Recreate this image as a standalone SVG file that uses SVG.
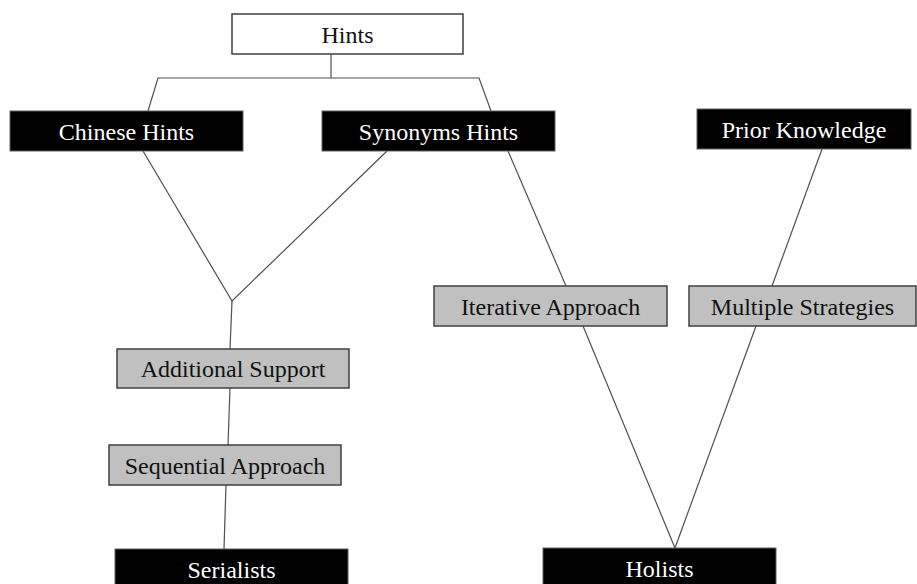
<svg xmlns="http://www.w3.org/2000/svg" width="917" height="584" viewBox="0 0 917 584">
<style>
text{font-family:'Liberation Serif','Times New Roman','DejaVu Serif',serif;font-size:24px;text-anchor:middle}
.w rect{fill:#fff;stroke:#404040;stroke-width:1.5}
.b rect{fill:#000;stroke:#606060;stroke-width:1}
.b text{fill:#fff}
.g rect{fill:#c0c0c0;stroke:#404040;stroke-width:1.5}
.g text,.w text{fill:#111}
#connectors line,#connectors polyline{stroke:#505050;stroke-width:1.2;fill:none}
</style>
<rect width="917" height="584" fill="#fff"/>
<g id="connectors">
<line x1="331" y1="54" x2="331" y2="78"/>
<polyline points="148,111 158,78 479,78 491,111"/>
<polyline points="143,151 232,301 387,151"/>
<line x1="232" y1="301" x2="230" y2="349"/>
<line x1="230" y1="388" x2="228" y2="445"/>
<line x1="226" y1="485" x2="224" y2="549"/>
<line x1="508" y1="151" x2="566" y2="286"/>
<line x1="822" y1="149" x2="772" y2="286"/>
<polyline points="583,326 675,548 756,326"/>
</g>
<g id="hints" class="w"><rect x="232" y="14" width="231" height="40"/><text x="347.5" y="43" font-family="Liberation Serif, serif">Hints</text></g>
<g id="chinese-hints" class="b"><rect x="10" y="111" width="233" height="40"/><text x="126.5" y="139.5">Chinese Hints</text></g>
<g id="synonyms-hints" class="b"><rect x="322" y="111" width="233" height="40"/><text x="438.5" y="139.5">Synonyms Hints</text></g>
<g id="prior-knowledge" class="b"><rect x="697" y="109" width="214" height="40"/><text x="804" y="137.5">Prior Knowledge</text></g>
<g id="additional-support" class="g"><rect x="117" y="349" width="232" height="39"/><text x="233" y="377">Additional Support</text></g>
<g id="sequential-approach" class="g"><rect x="109" y="445" width="232" height="40"/><text x="225" y="473.5">Sequential Approach</text></g>
<g id="iterative-approach" class="g"><rect x="434" y="286" width="233" height="40"/><text x="550.5" y="314.5">Iterative Approach</text></g>
<g id="multiple-strategies" class="g"><rect x="689" y="286" width="227" height="40"/><text x="802.5" y="314.5">Multiple Strategies</text></g>
<g id="serialists" class="b"><rect x="115" y="549" width="233" height="40"/><text x="231.5" y="577.5">Serialists</text></g>
<g id="holists" class="b"><rect x="543" y="548" width="233" height="40"/><text x="659.5" y="576.5">Holists</text></g>
</svg>
